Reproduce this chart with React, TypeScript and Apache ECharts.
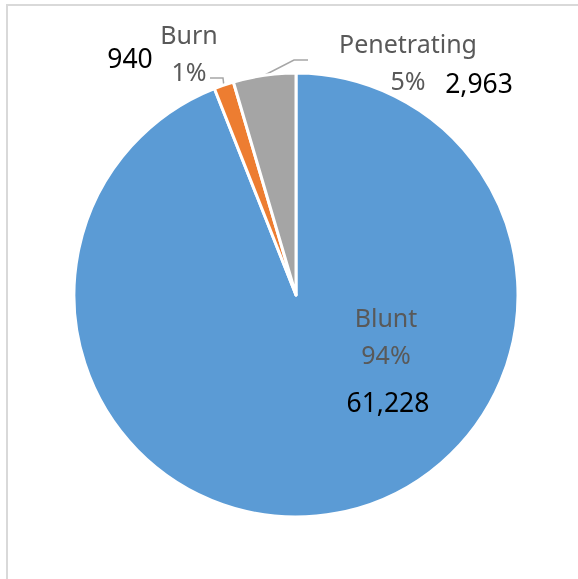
import React, { useEffect, useRef } from "react";
import * as echarts from "echarts";

const categories = ["Blunt", "Burn", "Penetrating"];
const values = [61228, 940, 2963];
const colors = ["#5B9BD5", "#ED7D31", "#A5A5A5"];

const NAME_POS = [
  [386, 335],
  [189, 52],
  [408, 61],
];
const VALUE_POS = [
  [388, 402],
  [130, 58],
  [479, 83],
];
// leader-line elbow and end points (layout only)
const LINE_ELBOW: (number[] | null)[] = [null, [223, 78], [294, 60]];
const LINE_END: (number[] | null)[] = [null, [210, 78], [308, 60]];

export default function App() {
  const ref = useRef<HTMLDivElement>(null);
  useEffect(() => {
    if (!ref.current) return;
    const chart = echarts.init(ref.current, undefined, { renderer: "svg" });
    const data = categories.map((name, i) => ({
      name,
      value: values[i],
      itemStyle: { color: colors[i] },
      labelLine: { show: i !== 0 },
    }));
    const font = "'Noto Sans', Lato, sans-serif";
    chart.setOption({
      animation: false,
      graphic: [
        {
          type: "rect",
          shape: { x: 7, y: 5, width: 700, height: 700 },
          style: { fill: "none", stroke: "#D9D9D9", lineWidth: 2 },
          silent: true,
        },
      ],
      series: [
        {
          type: "pie",
          center: [296, 295],
          radius: 222,
          startAngle: 90,
          clockwise: true,
          percentPrecision: 0,
          itemStyle: { borderColor: "#fff", borderWidth: 3 },
          label: {
            show: true,
            position: "outside",
            formatter: "{b}\n{d}%",
            color: "#595959",
            fontSize: 25,
            lineHeight: 37,
            fontFamily: font,
            align: "center",
          },
          labelLine: {
            show: true,
            length: 10,
            length2: 10,
            lineStyle: { color: "#A6A6A6", width: 1.5 },
          },
          labelLayout: (p: any) => {
            const i = p.dataIndex;
            const out: any = {
              x: NAME_POS[i][0],
              y: NAME_POS[i][1],
              align: "center",
              verticalAlign: "middle",
            };
            if (LINE_ELBOW[i] && p.labelLinePoints && p.labelLinePoints[0]) {
              out.labelLinePoints = [
                p.labelLinePoints[0],
                LINE_ELBOW[i],
                LINE_END[i],
              ];
            }
            return out;
          },
          data,
        },
        {
          type: "pie",
          center: [296, 295],
          radius: 222,
          startAngle: 90,
          clockwise: true,
          silent: true,
          z: 5,
          itemStyle: { color: "transparent", borderWidth: 0 },
          label: {
            show: true,
            position: "outside",
            formatter: (p: any) => echarts.format.addCommas(p.value),
            color: "#000",
            fontSize: 26.5,
            fontFamily: font,
          },
          labelLine: { show: false },
          labelLayout: (p: any) => ({
            x: VALUE_POS[p.dataIndex][0],
            y: VALUE_POS[p.dataIndex][1],
            align: "center",
            verticalAlign: "middle",
          }),
          data: categories.map((name, i) => ({ name, value: values[i] })),
        },
      ],
    });
    return () => chart.dispose();
  }, []);
  return (
    <div
      ref={ref}
      style={{ position: "fixed", left: 0, top: 0, width: 578, height: 579 }}
    />
  );
}
